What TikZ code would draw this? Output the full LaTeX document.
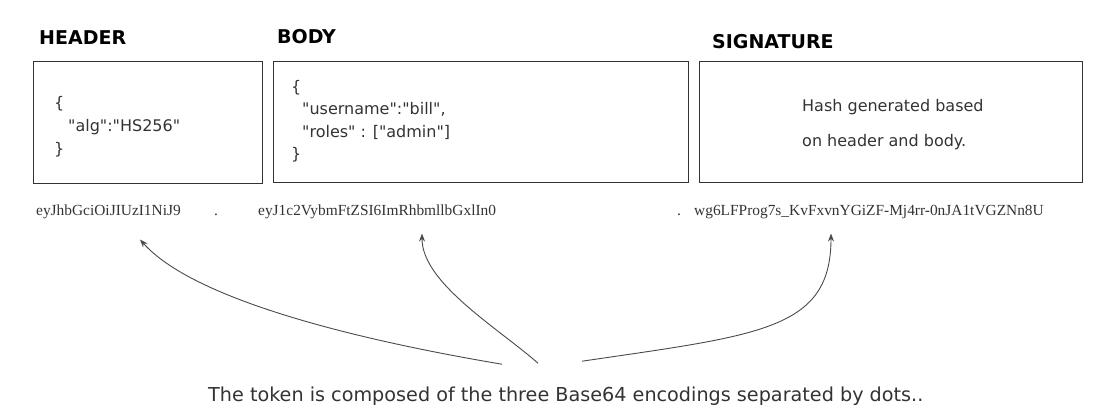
\documentclass[tikz,border=0pt]{standalone}
\usepackage{fontspec}
\setmainfont{DejaVu Sans}
\newfontfamily\encfont{Liberation Serif}
\usetikzlibrary{arrows.meta}
\definecolor{inkgray}{HTML}{333333}
\definecolor{arrowgray}{HTML}{4A4A4A}
\newcommand{\qt}{\textquotedbl}
\tikzset{
  partbox/.style={draw=inkgray, line width=1.4pt, anchor=north west, inner sep=0pt},
  parttitle/.style={anchor=base west, inner sep=0pt, font=\fontsize{19}{23}\selectfont\bfseries},
  json/.style={anchor=base west, inner sep=0pt, text=inkgray, font=\fontsize{16}{23}\selectfont},
  code/.style={anchor=base west, inner sep=0pt, text=inkgray, font=\encfont\fontsize{15.4}{18}\selectfont},
  link/.style={draw=arrowgray, line width=0.9pt, -{Stealth[length=8pt,width=6pt]}}
}

\begin{document}
\begin{tikzpicture}[x=1pt,y=-1pt]
\useasboundingbox (0,0) rectangle (1105,414);
% Titles
\node[parttitle] (hdrtitle) at (39,45) {HEADER};
\node[parttitle] (bodytitle) at (277,44) {BODY};
\node[parttitle] (sigtitle) at (712,49) {SIGNATURE};
% Boxes
\node[partbox, minimum width=229pt, minimum height=122pt] (hdrbox) at (33,61) {};
\node[partbox, minimum width=415pt, minimum height=121pt] (bodybox) at (273,61) {};
\node[partbox, minimum width=383pt, minimum height=121pt] (sigbox) at (699,61) {};
% Header content
\node[json] (hdropen) at (54,109) {\{};
\node[json] (hdralg) at (68,132) {\qt alg\qt:\qt HS256\qt};
\node[json] (hdrclose) at (54,155) {\}};
% Body content
\node[json] (bodyopen) at (291,93) {\{};
\node[json] (bodyuser) at (302,115) {\qt username\qt:\qt bill\qt,};
\node[json] (bodyroles) at (302,138) {\qt roles\qt{} : [\qt admin\qt]};
\node[json] (bodyclose) at (291,160) {\}};
% Signature content
\node[json] (sighash) at (802,112) {Hash generated based};
\node[json] (sigbasis) at (802,147) {on header and body.};
%% Base64 encodings
\node[code] (hdrcode) at (36,215) {eyJhbGciOiJIUzI1NiJ9};
\node[code] (dotone) at (214,215) {.};
\node[code] (bodycode) at (258,215) {eyJ1c2VybmFtZSI6ImRhbmllbGxlIn0};
\node[code] (dottwo) at (677,215) {.};
\node[code] (sigcode) at (694,215) {wg6LFProg7s\_KvFxvnYGiZF-Mj4rr-0nJA1tVGZNn8U};
% Caption
\node[json, font=\fontsize{19.2}{23}\selectfont] (token) at (208,401) {The token is composed of the three Base64 encodings separated by dots..};
% Arrows
\draw[link] ([xshift=294pt,yshift=22pt]token.north west) .. controls (352,339) and (193,299) .. ([xshift=104pt,yshift=-21pt]hdrcode.south west);
\draw[link] ([xshift=330pt,yshift=23pt]token.north west) .. controls (498,328) and (422,283) .. ([xshift=164pt,yshift=-15pt]bodycode.south west);
\draw[link] ([xshift=374pt,yshift=25pt]token.north west) .. controls (760,335) and (831,330) .. ([xshift=137pt,yshift=-15pt]sigcode.south west);
\end{tikzpicture}
\end{document}
